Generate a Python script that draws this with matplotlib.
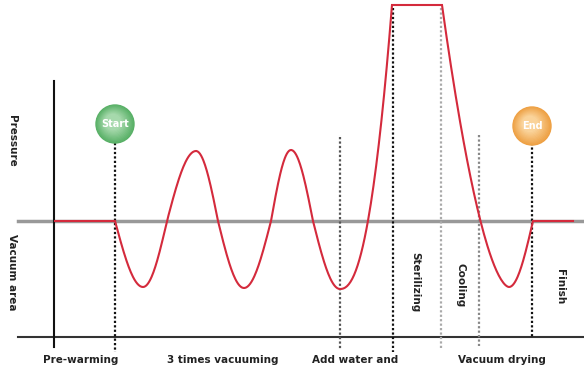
import matplotlib.pyplot as plt
import numpy as np
from matplotlib.patches import Circle

# key points of the pressure curve (x, level above/below the zero line)
wave_x = [115, 143, 167, 196, 218, 244, 271, 291, 313, 340]
wave_y = [0, -66, 0, 70, 0, -67, 0, 71, 0, -68]
plateau_x = [392, 442]
plateau_y = 216
dry_x = [509, 533]
dry_y = -66
flat_in = [55, 115]
flat_out = [533, 573]

# dividers: x, top, bottom, colour
div_x = [115, 340, 393, 441, 479, 532]
div_top = [78, 84, 213, 213, 86, 78]
div_bot = [-131, -128, -131, -127, -125, -116]
div_col = ['#111111', '#555555', '#111111', '#aaaaaa', '#888888', '#111111']

bottom_labels = ['Pre-warming', '3 times vacuuming', 'Add water and', 'Vacuum drying']
bottom_x = [43, 167, 312, 458]
side_labels = ['Pressure', 'Vacuum area']
side_y = [80, -51]
stage_labels = ['Sterilizing', 'Cooling', 'Finish']
stage_x = [415, 460, 560]
stage_y = [-61, -64, -66]


def quarter(x0, y0, x1, y1, n=40):
    # quarter sine between a zero crossing and an extreme (or back)
    t = np.linspace(0, 1, n)
    xs = x0 + (x1 - x0) * t
    if y0 == 0:
        ys = y1 * np.sin(np.pi / 2 * t)
    else:
        ys = y0 * np.cos(np.pi / 2 * t)
    return xs, ys


def ease(x0, y0, x1, y1, p, flat_start, n=60):
    t = np.linspace(0, 1, n)
    xs = x0 + (x1 - x0) * t
    if flat_start:
        ys = y0 + (y1 - y0) * t ** p
    else:
        ys = y1 + (y0 - y1) * (1 - t) ** p
    return xs, ys


fig = plt.figure(figsize=(5.84, 3.76), dpi=100)
ax = fig.add_axes([0, 0, 1, 1])
ax.set_xlim(0, 584)
ax.set_ylim(-155, 221)
ax.axis('off')

# axes frame
ax.plot([18, 584], [0, 0], color='#999999', lw=2.5, zorder=1)
ax.plot([18, 584], [-116, -116], color='#333333', lw=1.5, zorder=1)
ax.plot([54, 54], [140, -126], color='#111111', lw=1.5, zorder=1)

for x, t, b, c in zip(div_x, div_top, div_bot, div_col):
    ax.plot([x, x], [t, b], color=c, lw=1.6, linestyle=(0, (1, 1)), zorder=2)

# build curve
xs, ys = [flat_in[0]], [0]
for i in range(len(wave_x) - 1):
    a, b = quarter(wave_x[i], wave_y[i], wave_x[i + 1], wave_y[i + 1])
    xs += list(a)
    ys += list(b)
a, b = ease(wave_x[-1], wave_y[-1], plateau_x[0], plateau_y, 2.3, True)
xs += list(a); ys += list(b)
xs += [plateau_x[1]]; ys += [plateau_y]
a, b = ease(plateau_x[1], plateau_y, dry_x[0], dry_y, 1.7, False)
xs += list(a); ys += list(b)
a, b = quarter(dry_x[0], dry_y, dry_x[1], 0)
xs += list(a); ys += list(b)
xs += [flat_out[1]]; ys += [0]
ax.plot(xs, ys, color='#d42a3c', lw=1.5, zorder=3, solid_joinstyle='miter')


def bubble(cx, cy, r, edge, mid, text):
    n = 12
    ce = np.array(plt.matplotlib.colors.to_rgb(edge))
    cm = np.array(plt.matplotlib.colors.to_rgb(mid))
    for k in range(n):
        f = k / (n - 1)
        col = ce * (1 - f) + cm * f
        ax.add_patch(Circle((cx - 2 * f, cy + 2 * f), r * (1 - 0.6 * f), color=col, zorder=4))
    ax.text(cx, cy, text, color='white', fontsize=7, fontweight='bold',
            ha='center', va='center', zorder=5)


bubble(115, 97, 19, '#58b066', '#a6d9ac', 'Start')
bubble(532, 95, 19, '#eea043', '#fad39a', 'End')

for lab, x in zip(bottom_labels, bottom_x):
    ax.text(x, -139, lab, fontsize=7.5, fontweight='bold', color='#222222',
            ha='left', va='center')
for lab, y in zip(side_labels, side_y):
    ax.text(12, y, lab, fontsize=7.5, fontweight='bold', color='#222222',
            rotation=-90, ha='center', va='center')
for lab, x, y in zip(stage_labels, stage_x, stage_y):
    ax.text(x, y, lab, fontsize=7.5, fontweight='bold', color='#222222',
            rotation=-90, ha='center', va='center')

fig.savefig('out.png', dpi=100)
